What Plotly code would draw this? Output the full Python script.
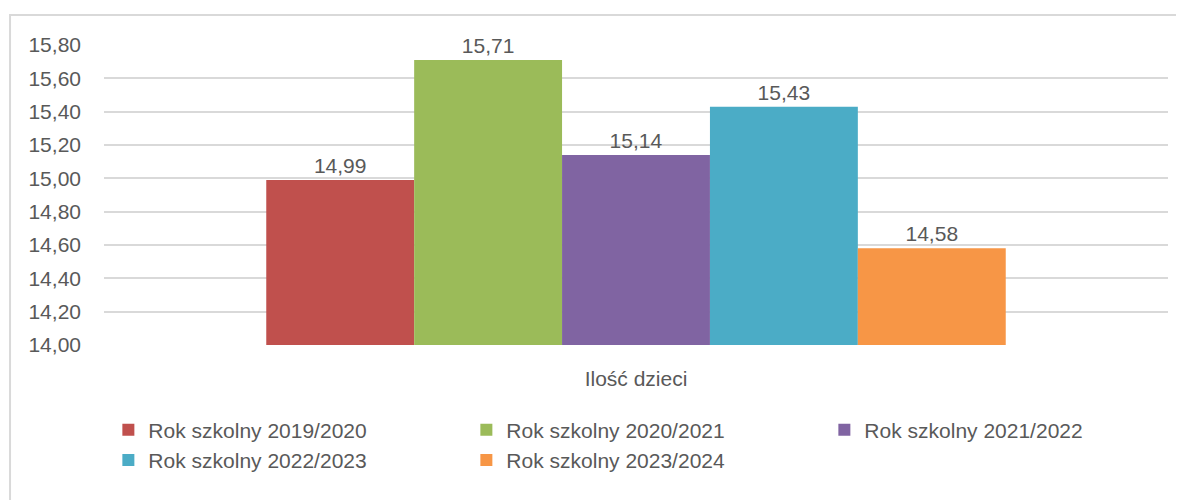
import plotly.graph_objects as go

# Data
category = ['Ilość dzieci']
series_names = [
	'Rok szkolny 2019/2020',
	'Rok szkolny 2020/2021',
	'Rok szkolny 2021/2022',
	'Rok szkolny 2022/2023',
	'Rok szkolny 2023/2024',
]
values = [14.99, 15.71, 15.14, 15.43, 14.58]
colors = ['#C0504D', '#9BBB59', '#8064A2', '#4BACC6', '#F79646']
y_ticks = [14.0, 14.2, 14.4, 14.6, 14.8, 15.0, 15.2, 15.4, 15.6, 15.8]

FONT = 'Liberation Sans'
TEXT = '#595959'
GRID = '#D9D9D9'

fig = go.Figure()

for name, val, col in zip(series_names, values, colors):
	fig.add_trace(go.Bar(
		x=category,
		y=[val - 14.0],
		base=14.0,
		name=name,
		marker_color=col,
		marker_line_width=0,
		text=[f'{val:.2f}'.replace('.', ',')],
		textposition='outside',
		textfont={'color': TEXT, 'size': 21, 'family': FONT},
		cliponaxis=False,
		hovertemplate='%{text}<extra></extra>',
	))

fig.update_layout(
	width=1176,
	height=492,
	barmode='group',
	bargap=0.305,
	bargroupgap=0,
	plot_bgcolor='white',
	paper_bgcolor='white',
	separators=', ',
	margin={'l': 96, 'r': 16, 't': 37, 'b': 155, 'autoexpand': False},
	font={'family': FONT, 'size': 21, 'color': TEXT},
	showlegend=True,
	legend={
		'orientation': 'h',
		'x': 1.0135,
		'xanchor': 'right',
		'y': -0.215,
		'yanchor': 'top',
		'entrywidth': 313,
		'entrywidthmode': 'pixels',
		'font': {'size': 21, 'color': TEXT, 'family': FONT},
		'itemwidth': 30,
		'tracegroupgap': 0,
	},
	shapes=[{
		'type': 'rect',
		'xref': 'paper', 'yref': 'paper',
		'x0': -0.0883, 'x1': 1.2,
		'y0': -0.7, 'y1': 1.1,
		'line': {'color': GRID, 'width': 2},
		'fillcolor': 'rgba(0,0,0,0)',
		'layer': 'below',
	}],
)

fig.update_xaxes(
	showgrid=False,
	showline=False,
	ticks='',
	tickfont={'size': 21, 'color': TEXT},
	ticklabelstandoff=19,
)

fig.update_yaxes(
	range=[14.0, 15.8],
	tickvals=y_ticks,
	tickformat='.2f',
	showgrid=True,
	gridcolor=GRID,
	gridwidth=1.5,
	zeroline=False,
	showline=False,
	ticks='',
	ticklabelstandoff=22,
	tickfont={'size': 21, 'color': TEXT},
)

fig.write_html('out.html')
